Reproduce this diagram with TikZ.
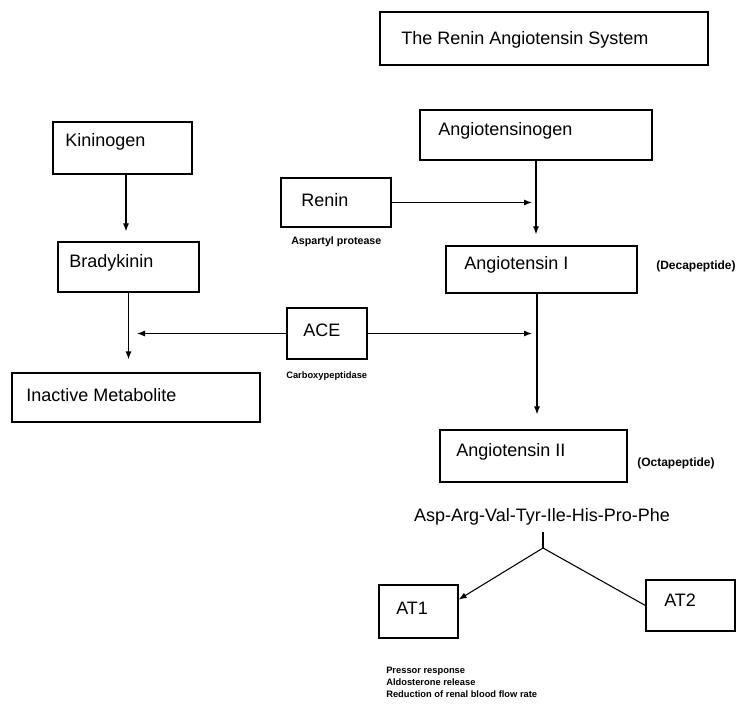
\documentclass[tikz,border=0pt]{standalone}
\usepackage{fontspec}
\setmainfont{Liberation Sans}
\usetikzlibrary{arrows.meta}
\usetikzlibrary{fit}
\usetikzlibrary{calc}

\tikzset{
  box/.style={draw, line width=0.9pt, inner sep=0pt},
  arr/.style={line width=0.8pt, -{Latex[length=6pt,width=4.5pt]}},
  lbl/.style={anchor=west, inner sep=0.75pt, font=\fontsize{13.5}{16}\selectfont},
  note/.style={anchor=west, inner sep=0.75pt, font=\bfseries\fontsize{8}{9.6}\selectfont},
}

\begin{document}
\begin{tikzpicture}[x=0.75pt,y=0.75pt,yscale=-1,xscale=1]
\useasboundingbox (0,0) rectangle (740,711);

%Shape: Rectangle [title]
\node [box, fit={(380,12) (708,65)}] (title) {};
%Shape: Rectangle [Kininogen]
\node [box, fit={(53,122) (192,174)}] (kin) {};
%Shape: Rectangle [Bradykinin]
\node [box, fit={(58,242) (199,292)}] (brady) {};
%Shape: Rectangle [Inactive Metabolite]
\node [box, fit={(12,373) (260,422)}] (inact) {};
%Shape: Rectangle [ACE]
\node [box, fit={(287,308) (367,359)}] (ace) {};
%Shape: Rectangle [Angiotensinogen]
\node [box, fit={(420,110) (652,160)}] (angen) {};
%Shape: Rectangle [Renin]
\node [box, fit={(281,178) (391,227)}] (renin) {};
%Shape: Rectangle [Angiotensin I]
\node [box, fit={(446,246) (637,293)}] (angone) {};
%Shape: Rectangle [Angiotensin II]
\node [box, fit={(440,430) (627,482)}] (angtwo) {};
%Shape: Rectangle [AT1]
\node [box, fit={(379,585) (458,638)}] (atone) {};
%Shape: Rectangle [AT2]
\node [box, fit={(646,580) (735,631)}] (attwo) {};

% Text Node
\node [lbl] (titletext) at (400,40) {The Renin Angiotensin System};
% Text Node
\node [lbl] (kintext) at (64,142) {Kininogen};
% Text Node
\node [lbl] (bradytext) at (68,263) {Bradykinin};
% Text Node
\node [lbl] (inacttext) at (25,395) {Inactive Metabolite};
% Text Node
\node [lbl] (acetext) at (302,330) {ACE};
% Text Node
\node [note, font=\bfseries\fontsize{7}{8.4}\selectfont] (acenote) at (285,376) {Carboxypeptidase};
% Text Node
\node [lbl] (angentext) at (437,131) {Angiotensinogen};
% Text Node
\node [lbl] (renintext) at (300,200) {Renin};
% Text Node
\node [note] (reninnote) at (290,242) {Aspartyl protease};
% Text Node
\node [lbl] (angonetext) at (463,265) {Angiotensin I};
% Text Node
\node [note, font=\bfseries\fontsize{9}{10.8}\selectfont] (angonenote) at (655,266) {(Decapeptide)};
% Text Node
\node [lbl] (angtwotext) at (455,452) {Angiotensin II};
% Text Node
\node [note, font=\bfseries\fontsize{9}{10.8}\selectfont] (angtwonote) at (636,463) {(Octapeptide)};
% Text Node
\node [lbl, anchor=center] (seq) at (542,517) {Asp-Arg-Val-Tyr-Ile-His-Pro-Phe};
% Text Node
\node [lbl] (atonetext) at (395,608) {AT1};
% Text Node
\node [lbl] (attwotext) at (663,600) {AT2};
% Text Node
\node [note, anchor=north west, align=left, font=\bfseries\fontsize{7}{9}\selectfont] (effects) at (385,666) {Pressor response\\Aldosterone release\\Reduction of renal blood flow rate};

%Free ends
\coordinate (aceleft) at (137,333.5);
\coordinate (aceright) at (532,333.5);
\coordinate (reninright) at (532,202.5);
\coordinate (fork) at (543,548);
\coordinate (atonein) at ($(atone.north east)!0.28!(atone.south east)$);

%Straight Lines
\draw [arr, shorten >=7.5pt] ($(kin.south)+(3.5,0)$) -- ($(kin.south |- brady.north)+(3.5,0)$);
\draw [arr, shorten >=9.75pt] (brady.south) -- (brady.south |- inact.north);
\draw [arr] (ace.west) -- (aceleft);
\draw [arr] (ace.east) -- (aceright);
\draw [arr] (renin.east) -- (reninright);
\draw [arr, shorten >=8.25pt] (angen.south) -- (angen.south |- angone.north);
\draw [arr, shorten >=11.25pt] ($(angone.south)+(-4.5,0)$) -- ($(angone.south |- angtwo.north)+(-4.5,0)$);
\draw [line width=0.8pt, shorten <=4pt] (seq.south -| fork) -- (fork);
\draw [arr] (fork) -- (atonein);
\draw [line width=0.8pt] (fork) -- (attwo.west);

\end{tikzpicture}
\end{document}
